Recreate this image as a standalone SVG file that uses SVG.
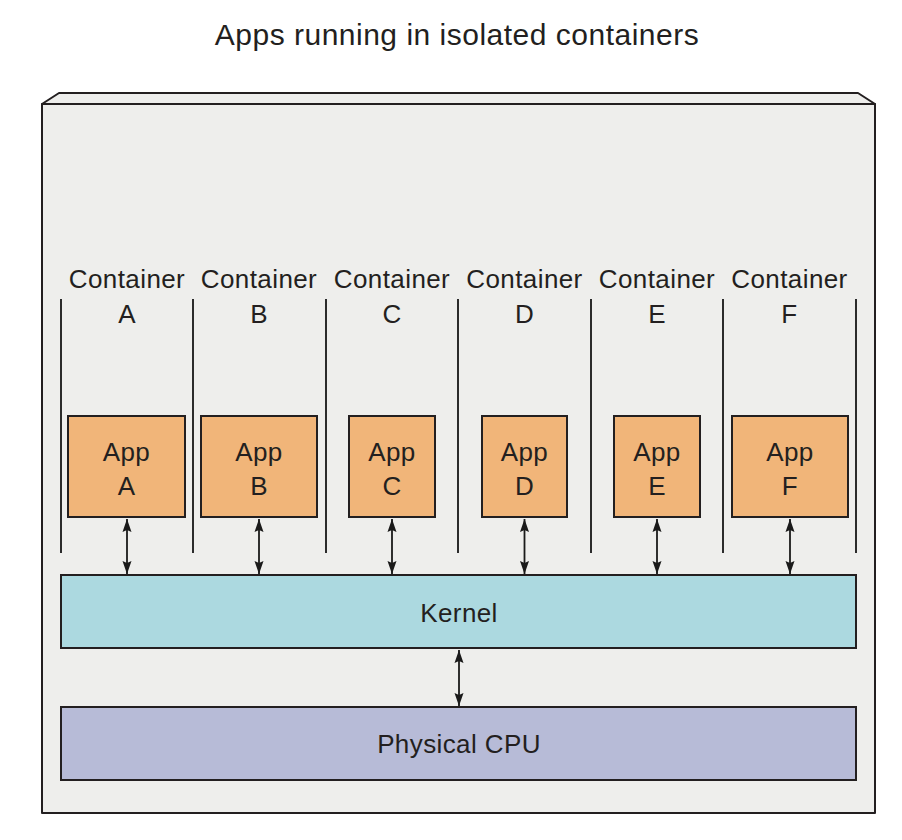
<svg xmlns="http://www.w3.org/2000/svg" width="902" height="840" viewBox="0 0 902 840">
  <style>
    text { font-family: "Liberation Sans", Arial, sans-serif; fill: #231f20; text-anchor: middle; }
    .title { font-size: 30px; letter-spacing: 0.5px; }
    .lbl { font-size: 26px; letter-spacing: 0.4px; }
    .frame { fill: #eeeeec; stroke: #231f20; stroke-width: 2; stroke-linejoin: round; }
    .divider { stroke: #2b2b2b; stroke-width: 2; }
    .app { fill: #f1b579; stroke: #231f20; stroke-width: 2; }
    .kernel { fill: #acd9e0; stroke: #231f20; stroke-width: 2; }
    .cpu { fill: #b7bbd7; stroke: #231f20; stroke-width: 2; }
    .link { stroke: #1a1a1a; stroke-width: 1.8; fill: none; marker-start: url(#head); marker-end: url(#head); }
  </style>
  <defs>
    <marker id="head" viewBox="0 0 13 10" refX="13" refY="5" markerWidth="13" markerHeight="10" markerUnits="userSpaceOnUse" orient="auto-start-reverse">
      <path d="M0,0.5 L13,5 L0,9.5 L2,5 Z" fill="#1a1a1a"/>
    </marker>
  </defs>

  <rect width="902" height="840" fill="#ffffff"/>

  <text class="title" x="457" y="45">Apps running in isolated containers</text>

  <!-- host box with its top face -->
  <g id="host">
    <polygon class="frame" points="59,93 858,93 875,104 42,104"/>
    <rect class="frame" x="42" y="104" width="833" height="709"/>
  </g>

  <!-- container column separators -->
  <g id="dividers">
    <line class="divider" x1="61" y1="299" x2="61" y2="553"/>
    <line class="divider" x1="193" y1="299" x2="193" y2="553"/>
    <line class="divider" x1="326" y1="299" x2="326" y2="553"/>
    <line class="divider" x1="458" y1="299" x2="458" y2="553"/>
    <line class="divider" x1="591" y1="299" x2="591" y2="553"/>
    <line class="divider" x1="723" y1="299" x2="723" y2="553"/>
    <line class="divider" x1="856" y1="299" x2="856" y2="553"/>
  </g>

  <g id="container-a">
    <text class="lbl" x="127" y="288">Container</text>
    <text class="lbl" x="127" y="323">A</text>
    <rect class="app" x="68" y="416" width="117" height="101"/>
    <text class="lbl" x="126.5" y="461">App</text>
    <text class="lbl" x="126.5" y="495">A</text>
  </g>
  <g id="container-b">
    <text class="lbl" x="259" y="288">Container</text>
    <text class="lbl" x="259" y="323">B</text>
    <rect class="app" x="201" y="416" width="116" height="101"/>
    <text class="lbl" x="259" y="461">App</text>
    <text class="lbl" x="259" y="495">B</text>
  </g>
  <g id="container-c">
    <text class="lbl" x="392" y="288">Container</text>
    <text class="lbl" x="392" y="323">C</text>
    <rect class="app" x="349" y="416" width="86" height="101"/>
    <text class="lbl" x="392" y="461">App</text>
    <text class="lbl" x="392" y="495">C</text>
  </g>
  <g id="container-d">
    <text class="lbl" x="524.5" y="288">Container</text>
    <text class="lbl" x="524.5" y="323">D</text>
    <rect class="app" x="482" y="416" width="85" height="101"/>
    <text class="lbl" x="524.5" y="461">App</text>
    <text class="lbl" x="524.5" y="495">D</text>
  </g>
  <g id="container-e">
    <text class="lbl" x="657" y="288">Container</text>
    <text class="lbl" x="657" y="323">E</text>
    <rect class="app" x="614" y="416" width="86" height="101"/>
    <text class="lbl" x="657" y="461">App</text>
    <text class="lbl" x="657" y="495">E</text>
  </g>
  <g id="container-f">
    <text class="lbl" x="789.5" y="288">Container</text>
    <text class="lbl" x="789.5" y="323">F</text>
    <rect class="app" x="732" y="416" width="116" height="101"/>
    <text class="lbl" x="790" y="461">App</text>
    <text class="lbl" x="790" y="495">F</text>
  </g>

  <g id="kernel">
    <rect class="kernel" x="61" y="575" width="795" height="73"/>
    <text class="lbl" x="459" y="622">Kernel</text>
  </g>

  <g id="cpu">
    <rect class="cpu" x="61" y="707" width="795" height="73"/>
    <text class="lbl" x="459" y="753">Physical CPU</text>
  </g>

  <g id="connectors">
    <line class="link" x1="127" y1="519" x2="127" y2="574"/>
    <line class="link" x1="259" y1="519" x2="259" y2="574"/>
    <line class="link" x1="392" y1="519" x2="392" y2="574"/>
    <line class="link" x1="524.5" y1="519" x2="524.5" y2="574"/>
    <line class="link" x1="657" y1="519" x2="657" y2="574"/>
    <line class="link" x1="790" y1="519" x2="790" y2="574"/>
    <line class="link" x1="459" y1="650" x2="459" y2="706"/>
  </g>
</svg>
